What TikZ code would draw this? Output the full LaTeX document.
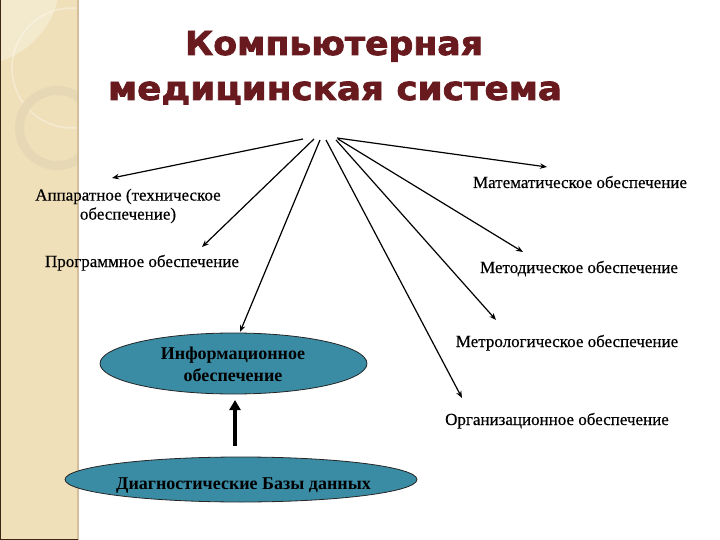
\documentclass[tikz,border=0pt]{standalone}
\usepackage{fontspec}
\usepackage{graphicx}
\setmainfont{Liberation Serif}
\newfontfamily\lblfont[FakeBold=0.4]{Liberation Serif}
\newfontfamily\titlefont[FakeBold=2.2]{DejaVu Sans Bold}
\usetikzlibrary{arrows.meta,shapes.geometric}
\definecolor{maroon}{RGB}{104,26,30}
\definecolor{stripc}{RGB}{239,224,185}
\definecolor{stripl}{RGB}{243,233,205}
\definecolor{ringc}{RGB}{230,216,180}
\definecolor{edgec}{RGB}{212,190,155}
\definecolor{teal}{RGB}{58,140,165}
\tikzset{
  titletext/.style={font=\titlefont\fontsize{33}{38}\selectfont, text=maroon, inner sep=0pt},
  lbl/.style={font=\lblfont\fontsize{17}{19}\selectfont, inner sep=0pt, align=center},
  elltext/.style={font=\bfseries\fontsize{18}{22}\selectfont, inner sep=0pt, align=center},
  elli/.style={ellipse, draw=black!85, line width=0.8pt, fill=teal, inner sep=0pt},
  conn/.style={draw=black, line width=1.2pt, -{Stealth[length=7pt,width=5.5pt]}},
  thick arrow/.style={draw=black, line width=4.5pt, -{Triangle[length=10pt,width=11pt]}}
}
\begin{document}
\begin{tikzpicture}[x=1pt,y=-1pt]
\useasboundingbox (0,0) rectangle (720,540);
\fill[white] (0,0) rectangle (720,540);
% decorative strip
\fill[stripc] (0,0) rectangle (78,540);
\begin{scope}
  \clip (0,0) rectangle (78,540);
  \fill[stripl] (-25,-20) circle (85);
  \draw[white, opacity=0.35, line width=1.5pt] (72,68) circle (60);
  \draw[ringc, line width=9pt] (57,128) circle (37.5);
\end{scope}
\draw[edgec, line width=1.5pt] (78,0) -- (78,540);
\draw[black!70!brown, line width=1pt] (0.5,0) -- (0.5,539.5) -- (78,539.5);

% title
\node[titletext, anchor=base] (title1) at (334,55) {\resizebox{298pt}{\height}{Компьютерная}};
\node[titletext, anchor=base] (title2) at (335,100) {\resizebox{454pt}{\height}{медицинская система}};

% labels
\node[lbl] (app) at (128,206) {Аппаратное (техническое\\обеспечение)};
\node[lbl, anchor=base] (prog) at (142,267) {Программное обеспечение};
\node[lbl, anchor=base] (math) at (580,188) {Математическое обеспечение};
\node[lbl, anchor=base] (meth) at (579,273) {Методическое обеспечение};
\node[lbl, anchor=base] (metr) at (567,347) {Метрологическое обеспечение};
\node[lbl, anchor=base] (org) at (557,425) {Организационное обеспечение};

% ellipses
\node[elli, minimum width=267pt, minimum height=61pt] (info) at (233.5,363.5) {};
\node[elltext] (infotext) at (233,364) {Информационное\\обеспечение};
\node[elli, minimum width=352pt, minimum height=45pt] (db) at (241,479.5) {};
\node[elltext, anchor=base] (dbtext) at (243.5,489) {Диагностические Базы данных};

% hub start points and arrow tips
\coordinate (s1) at (303,139);
\coordinate (s2) at (314,139);
\coordinate (s3) at (320,140);
\coordinate (s4) at (326,140);
\coordinate (s5) at (336,140);
\coordinate (s6) at (338,139);
\coordinate (s7) at (337,138);
\coordinate (e1) at (112,178);
\coordinate (e2) at (202,247);
\coordinate (e3) at (240,332);
\coordinate (e4) at (462,398);
\coordinate (e5) at (496,320);
\coordinate (e6) at (523,252);
\coordinate (e7) at (547,167);
\draw[conn] (s1) -- (e1);
\draw[conn] (s2) -- (e2);
\draw[conn] (s3) -- (e3);
\draw[conn] (s4) -- (e4);
\draw[conn] (s5) -- (e5);
\draw[conn] (s6) -- (e6);
\draw[conn] (s7) -- (e7);

% thick arrow from db to info
\coordinate (ta) at (235,446);
\coordinate (tb) at (235,400);
\draw[thick arrow] (ta) -- (tb);
\end{tikzpicture}
\end{document}
